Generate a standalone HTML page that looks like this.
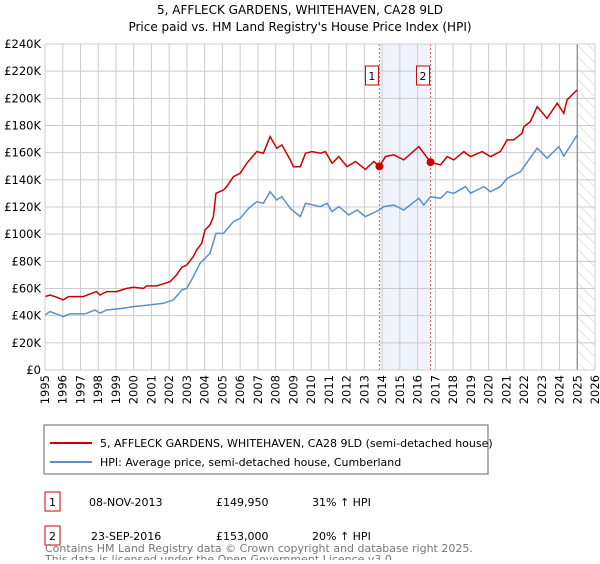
<!DOCTYPE html>
<html><head><meta charset="utf-8"><style>
body{margin:0;background:#fff;font-family:"DejaVu Sans","Liberation Sans",sans-serif;}
svg text{font-family:"DejaVu Sans","Liberation Sans",sans-serif;}
</style></head><body>
<svg id="chart" width="600" height="560" xmlns="http://www.w3.org/2000/svg">
<defs><pattern id="hatch" width="8" height="8" patternUnits="userSpaceOnUse" patternTransform="rotate(-45)"><line x1="0" y1="0" x2="0" y2="8" stroke="#ccc" stroke-width="1"/></pattern></defs>
<text x="300" y="14" text-anchor="middle" font-size="12" fill="#000">5, AFFLECK GARDENS, WHITEHAVEN, CA28 9LD</text>
<text x="300" y="31" text-anchor="middle" font-size="12" fill="#000">Price paid vs. HM Land Registry's House Price Index (HPI)</text>
<g id="grid"></g><g id="marks"></g><g id="axes"></g>
<rect x="44" y="425" width="444" height="49" fill="#fff" stroke="#666"/>
<line x1="50" y1="443" x2="92" y2="443" stroke="#cc0000" stroke-width="2"/>
<text x="100" y="447" font-size="11">5, AFFLECK GARDENS, WHITEHAVEN, CA28 9LD (semi-detached house)</text>
<line x1="50" y1="462" x2="92" y2="462" stroke="#5b8fd0" stroke-width="2"/>
<text x="100" y="466" font-size="11">HPI: Average price, semi-detached house, Cumberland</text>
<rect x="45" y="492" width="15" height="19" fill="#fff" stroke="#cc0000"/>
<text x="52.5" y="506" text-anchor="middle" font-size="11">1</text>
<text x="89" y="506" font-size="11">08-NOV-2013</text>
<text x="216" y="506" font-size="11">£149,950</text>
<text x="312" y="506" font-size="11">31% ↑ HPI</text>
<rect x="45" y="526" width="15" height="19" fill="#fff" stroke="#cc0000"/>
<text x="52.5" y="540" text-anchor="middle" font-size="11">2</text>
<text x="91" y="540" font-size="11">23-SEP-2016</text>
<text x="216" y="540" font-size="11">£153,000</text>
<text x="312" y="540" font-size="11">20% ↑ HPI</text>
<text x="45" y="552" font-size="11" fill="#777">Contains HM Land Registry data © Crown copyright and database right 2025.</text>
<text x="45" y="563" font-size="11" fill="#777">This data is licensed under the Open Government Licence v3.0.</text>
</svg>
<script>
const yTicks=[0,20,40,60,80,100,120,140,160,180,200,220,240];
const xYears=[1995,1996,1997,1998,1999,2000,2001,2002,2003,2004,2005,2006,2007,2008,2009,2010,2011,2012,2013,2014,2015,2016,2017,2018,2019,2020,2021,2022,2023,2024,2025,2026];
const propYears=[1995,1995.28,1995.56,1996.03,1996.32,1997.16,1997.63,1997.91,1998.1,1998.48,1999.04,1999.6,1999.98,2000.55,2000.73,2001.3,2001.77,2002.05,2002.42,2002.71,2002.99,2003.36,2003.55,2003.83,2004.02,2004.3,2004.49,2004.64,2005.06,2005.24,2005.62,2006.0,2006.37,2006.94,2007.31,2007.69,2008.06,2008.35,2008.82,2009.0,2009.39,2009.68,2010.05,2010.52,2010.8,2011.18,2011.56,2012.03,2012.5,2013.06,2013.53,2013.85,2014.19,2014.66,2015.22,2016.07,2016.35,2016.73,2017.29,2017.67,2018.04,2018.61,2018.98,2019.64,2020.11,2020.67,2021.05,2021.42,2021.89,2021.99,2022.36,2022.74,2023.3,2023.87,2024.24,2024.43,2024.99];
const propValues=[54.0,55.2,54.0,51.6,54.0,54.0,56.5,57.7,55.2,57.7,57.7,60.1,60.9,60.1,61.9,61.9,63.8,65.1,70.0,75.6,77.3,83.5,88.4,93.3,103.1,106.8,112.9,130.1,132.5,135.0,142.3,144.8,152.2,160.8,159.6,171.8,163.3,165.7,154.7,149.7,149.7,159.6,160.8,159.6,160.8,152.2,157.1,149.7,153.5,147.7,153.5,149.95,157.1,158.4,154.7,164.5,159.6,153.0,151.0,157.1,154.7,160.8,157.1,160.8,157.1,160.8,169.4,169.4,174.3,179.2,182.9,193.9,185.3,196.4,189.0,198.9,206.2];
const hpiYears=[1995,1995.28,1996.03,1996.41,1997.26,1997.82,1998.1,1998.48,1999.42,1999.98,2000.92,2001.67,2002.24,2002.71,2002.99,2003.36,2003.74,2004.3,2004.64,2005.06,2005.62,2006.0,2006.47,2006.94,2007.31,2007.69,2008.06,2008.35,2008.82,2009.39,2009.68,2010.52,2010.9,2011.18,2011.56,2012.12,2012.59,2013.06,2013.85,2014.09,2014.66,2015.22,2016.07,2016.35,2016.73,2017.29,2017.67,2018.04,2018.7,2018.98,2019.73,2020.11,2020.67,2021.05,2021.8,2021.99,2022.74,2023.3,2023.96,2024.24,2024.99];
const hpiValues=[40.5,43.0,39.3,41.3,41.3,44.2,41.8,44.2,45.5,46.7,47.9,49.1,51.6,58.9,60.1,68.7,78.6,85.9,100.6,100.6,109.2,111.7,119.0,123.9,122.7,131.3,125.2,127.6,119.0,112.9,122.7,120.3,122.7,116.6,120.3,114.1,117.8,112.9,117.8,120.3,121.5,117.8,126.4,121.5,127.6,126.4,131.3,130.1,135.0,130.1,135.0,131.3,135.0,141.1,146.0,149.7,163.3,155.9,164.5,157.5,172.9];
const saleYears=[2013.85,2016.73];
const saleValues=[149.95,153.0];
const saleLabels=["1","2"];

const X0=45,X1=595,Y0=370,Y1=44;
const xs=y=>X0+(y-1995)/(2026-1995)*(X1-X0);
const ys=v=>Y0-v/240*(Y0-Y1);
const NS="http://www.w3.org/2000/svg";
function mk(tag,attrs,parent){const e=document.createElementNS(NS,tag);for(const k in attrs)e.setAttribute(k,attrs[k]);parent.appendChild(e);return e;}
const grid=document.getElementById('grid'),marks=document.getElementById('marks'),axes=document.getElementById('axes');
mk('rect',{x:X0,y:Y1,width:X1-X0,height:Y0-Y1,fill:'#fff'},grid);
const band=mk('rect',{x:xs(saleYears[0]),y:Y1,width:xs(saleYears[1])-xs(saleYears[0]),height:Y0-Y1,fill:'#eef3fc'},grid);


const hat=mk('rect',{x:xs(2025),y:Y1,width:X1-xs(2025),height:Y0-Y1,fill:'url(#hatch)'},grid);


yTicks.forEach(t=>{
  mk('line',{x1:X0,x2:X1,y1:ys(t),y2:ys(t),stroke:'#ccc','stroke-width':1},grid);
  const tx=mk('text',{x:X0-4,y:ys(t)+4,'text-anchor':'end','font-size':11.5},axes);
  tx.textContent=t===0?'£0':'£'+t+'K';
  
  
});
xYears.forEach(yr=>{
  mk('line',{x1:xs(yr),x2:xs(yr),y1:Y1,y2:Y0,stroke:'#ccc','stroke-width':1},grid);
  const tx=mk('text',{x:0,y:0,'text-anchor':'end','font-size':11.5,transform:`translate(${xs(yr)+4},${Y0+5}) rotate(-90)`},axes);
  tx.textContent=yr;
  
  
});
mk('line',{x1:xs(2025),x2:xs(2025),y1:Y1,y2:Y0,stroke:'#888','stroke-width':1.2},grid);
saleYears.forEach((yr,i)=>{
  const l=mk('line',{x1:xs(yr),x2:xs(yr),y1:Y1,y2:Y0,stroke:'#e06060','stroke-width':1,'stroke-dasharray':'2,2'},marks);
  
  
});
const hp=mk('path',{d:hpiYears.map((y,i)=>(i?'L':'M')+xs(y).toFixed(1)+','+ys(hpiValues[i]).toFixed(1)).join(''),fill:'none',stroke:'#5b8fd0','stroke-width':1.5},marks);


const pp=mk('path',{d:propYears.map((y,i)=>(i?'L':'M')+xs(y).toFixed(1)+','+ys(propValues[i]).toFixed(1)).join(''),fill:'none',stroke:'#cc0000','stroke-width':1.5},marks);


saleYears.forEach((yr,i)=>{
  const c=mk('circle',{cx:xs(yr),cy:ys(saleValues[i]),r:4,fill:'#cc0000'},marks);
  
  
  const b=mk('rect',{x:xs(yr)-14,y:66,width:13,height:19,fill:'#fff',stroke:'#cc0000'},marks);
  
  
  const t=mk('text',{x:xs(yr)-7.5,y:80,'text-anchor':'middle','font-size':11},marks);
  t.textContent=saleLabels[i];
});
mk('rect',{x:X0,y:Y1,width:X1-X0,height:Y0-Y1,fill:'none',stroke:'#ccc'},axes);
</script>
</body></html>
